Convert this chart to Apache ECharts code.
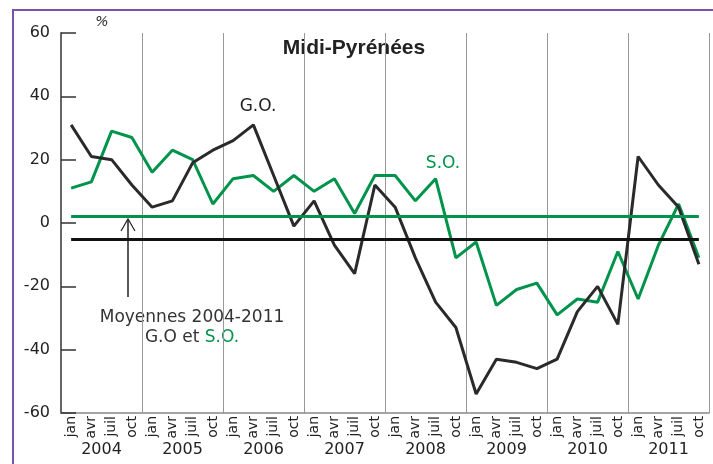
<!DOCTYPE html>
<html>
<head>
<meta charset="utf-8">
<script src="https://cdn.jsdelivr.net/npm/echarts@6/dist/echarts.min.js"></script>
<style>
  html, body { margin: 0; padding: 0; background: #fff; }
  #chart { width: 713px; height: 464px; }
</style>
</head>
<body>
<div id="chart"></div>
<script>
// données trimestrielles 2004-2011
var years = ['2004', '2005', '2006', '2007', '2008', '2009', '2010', '2011'];
var months = ['jan', 'avr', 'juil', 'oct'];
var yTicks = [-60, -40, -20, 0, 20, 40, 60];

var goValues = [31, 21, 20, 12, 5, 7, 19, 23, 26, 31, 15, -1, 7, -7, -16, 12,
                5, -11, -25, -33, -54, -43, -44, -46, -43, -28, -20, -32, 21, 12, 5, -13];
var soValues = [11, 13, 29, 27, 16, 23, 20, 6, 14, 15, 10, 15, 10, 14, 3, 15,
                15, 7, 14, -11, -6, -26, -21, -19, -29, -24, -25, -9, -24, -7, 6, -11];

// moyennes 2004-2011
var goMean = -5;
var soMean = 2;

var quarters = [];
for (var y = 0; y < years.length; y++) {
    for (var m = 0; m < months.length; m++) {
        quarters.push(months[m] + ' ' + years[y]);
    }
}

var green = '#00934b';
var black = '#2a2a2a';
var font = 'DejaVu Sans';

var myChart = echarts.init(document.getElementById('chart'));
var option = {
    animation: false,
    textStyle: { fontFamily: font },
    grid: { left: 61, right: 4, top: 33, bottom: 51 },
    xAxis: [
        {
            type: 'category',
            data: quarters,
            boundaryGap: true,
            axisLine: { onZero: false, lineStyle: { color: '#888', width: 1.5 } },
            axisTick: { interval: 0, length: 28, lineStyle: { color: '#999' } },
            axisLabel: {
                interval: 0, rotate: 90, margin: 3, fontSize: 14, color: '#222',
                formatter: function (v) { return v.split(' ')[0]; }
            },
            splitLine: { show: false }
        },
        {
            type: 'category',
            data: years,
            position: 'bottom',
            boundaryGap: true,
            axisLine: { show: false, onZero: false },
            axisTick: { interval: 0, length: 51, lineStyle: { color: '#999' } },
            axisLabel: { interval: 0, margin: 29, fontSize: 16, color: '#222' },
            splitLine: { show: true, interval: 0, lineStyle: { color: '#999', width: 1 } }
        }
    ],
    yAxis: {
        type: 'value',
        min: yTicks[0],
        max: yTicks[yTicks.length - 1],
        interval: 20,
        axisLine: { show: true, lineStyle: { color: '#666', width: 2 } },
        axisTick: { show: true, inside: true, length: 15, lineStyle: { color: '#333', width: 1.5 } },
        axisLabel: { fontSize: 16, color: '#222', margin: 11 },
        splitLine: { show: false }
    },
    series: [
        {
            name: 'S.O.',
            type: 'line',
            data: soValues,
            symbol: 'none',
            lineStyle: { color: green, width: 3 },
            z: 3,
            markLine: {
                silent: true,
                symbol: 'none',
                label: { show: false },
                lineStyle: { color: green, width: 3, type: 'solid' },
                data: [[{ coord: [0, soMean] }, { coord: [quarters.length - 1, soMean] }]]
            }
        },
        {
            name: 'G.O.',
            type: 'line',
            data: goValues,
            symbol: 'none',
            lineStyle: { color: black, width: 3 },
            z: 4,
            markLine: {
                silent: true,
                symbol: 'none',
                label: { show: false },
                lineStyle: { color: '#111', width: 3, type: 'solid' },
                data: [[{ coord: [0, goMean] }, { coord: [quarters.length - 1, goMean] }]]
            }
        }
    ],
    graphic: [
        // cadre violet
        { type: 'rect', shape: { x: 13, y: 10, width: 740, height: 500 },
          style: { fill: 'none', stroke: '#7a52ad', lineWidth: 2 } },
        { type: 'text', x: 354, y: 48,
          style: { text: 'Midi-Pyrénées', font: 'bold 21px "Liberation Sans"', fill: '#222',
                   textAlign: 'center', textVerticalAlign: 'middle' } },
        { type: 'text', x: 102, y: 22,
          style: { text: '%', font: 'italic 14px "DejaVu Sans"', fill: '#333',
                   textAlign: 'center', textVerticalAlign: 'middle' } },
        { type: 'text', x: 258, y: 107,
          style: { text: 'G.O.', font: '17px "DejaVu Sans"', fill: '#222',
                   textAlign: 'center', textVerticalAlign: 'middle' } },
        { type: 'text', x: 443, y: 164,
          style: { text: 'S.O.', font: '17px "DejaVu Sans"', fill: green,
                   textAlign: 'center', textVerticalAlign: 'middle' } },
        { type: 'text', x: 192, y: 318,
          style: { text: 'Moyennes 2004-2011', font: '17px "DejaVu Sans"', fill: '#333',
                   textAlign: 'center', textVerticalAlign: 'middle' } },
        { type: 'text', x: 192, y: 338,
          style: { text: '{b|G.O et }{g|S.O.}', textAlign: 'center', textVerticalAlign: 'middle',
                   rich: { b: { fontSize: 17, fontFamily: font, fill: '#333' },
                           g: { fontSize: 17, fontFamily: font, fill: green } } } },
        // flèche
        { type: 'polyline', shape: { points: [[128, 297], [128, 219]] },
          style: { stroke: '#222', lineWidth: 1.5, fill: 'none' } },
        { type: 'polyline', shape: { points: [[121, 231], [128, 219], [135, 231]] },
          style: { stroke: '#222', lineWidth: 1.2, fill: 'none' } }
    ]
};
myChart.setOption(option);
</script>
</body>
</html>
